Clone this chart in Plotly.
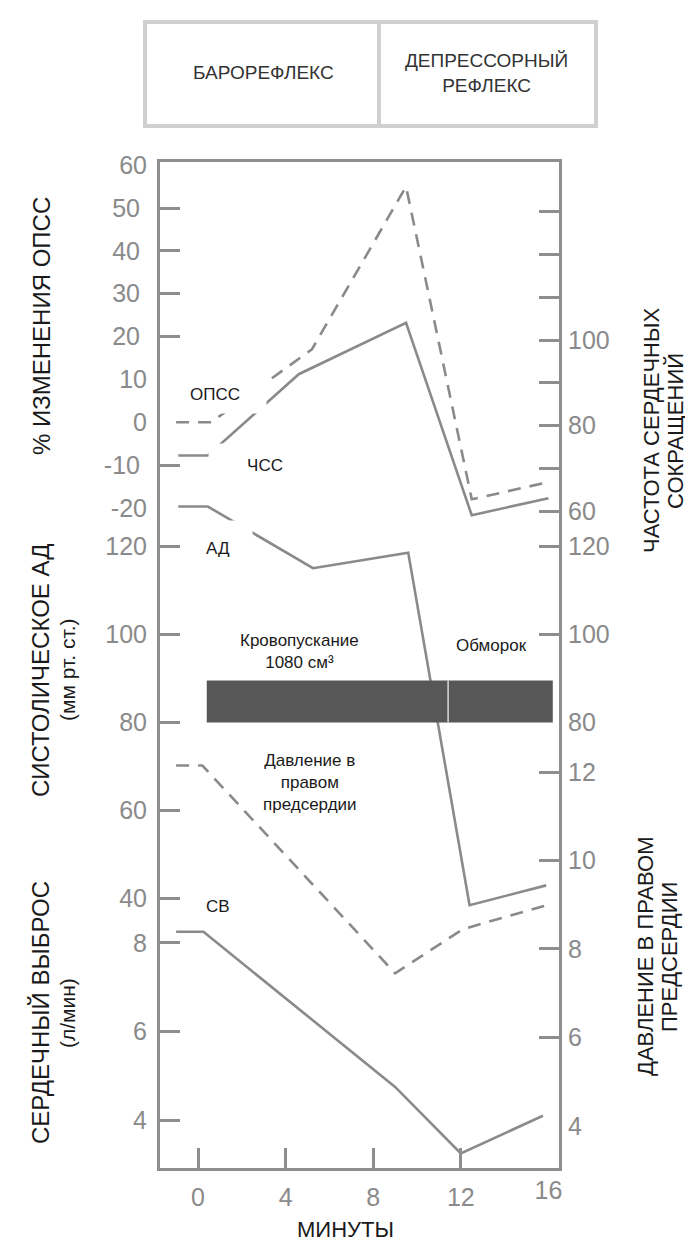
import plotly.graph_objects as go

# ---------------- data ----------------
minutes_opss = [-1.0, 0.6, 5.2, 9.5, 12.5, 16.0]
opss_change = [0, 0, 17, 55, -18, -14]            # % change of total peripheral resistance

minutes_hr = [-0.9, 0.45, 4.6, 9.5, 12.5, 16.0]
heart_rate = [73, 73, 92, 104, 59, 63]            # beats/min

minutes_bp = [-0.9, 0.45, 5.25, 9.6, 12.4, 15.9]
systolic_bp = [129, 129, 115, 118.5, 38.5, 43]    # mm Hg

minutes_rap = [-1.0, 0.2, 9.0, 12.1, 16.0]
right_atrial = [12.15, 12.15, 7.45, 8.45, 9.0]    # right atrial pressure

minutes_co = [-1.0, 0.25, 9.0, 12.0, 15.75]
cardiac_output = [8.25, 8.25, 4.75, 3.25, 4.1]    # l/min

phase_names = ["Кровопускание<br>1080 см³", "Обморок"]
phase_start = [0.4, 11.42]
phase_end = [11.42, 16.2]
phase_bp_band = [80, 89.5]

x_ticks = [0, 4, 8, 12]
x_tick_labels_only = [16]
opss_ticks = [50, 40, 30, 20, -10]
opss_labels_only = [60, 10, 0, -20]
bp_ticks_left = [120, 100, 80, 60, 40]
co_ticks = [8, 6, 4]
hr_ticks = [130, 120, 110, 100, 90, 80, 70, 60]
hr_tick_text = ["", "", "", "100", "", "80", "", "60"]
bp_ticks_right = [120, 100]
bp_labels_only_right = [80]
rap_ticks = [12, 10, 8, 6]
rap_labels_only = [4]

# ---------------- styling ----------------
W, H = 693, 1240
L, R, T, B = 152, 551, 154, 1160
FONT = "Liberation Sans, Arial, sans-serif"
AX = "#8e8e8e"
TL = "#8a8a8a"
LN = "#8a8a8a"
TXT = "#1a1a1a"

def px(x):
    return (x - L) / (R - L)

def py(y):
    return (B - y) / (B - T)

tickfont = dict(family=FONT, size=25, color=TL)
common = dict(showgrid=False, zeroline=False, ticks="inside", ticklen=20,
              tickwidth=2.5, tickcolor=AX, tickfont=tickfont)

fig = go.Figure()

def line(x, y, yaxis, dash="solid"):
    fig.add_trace(go.Scatter(x=x, y=y, xaxis="x", yaxis=yaxis, mode="lines",
                             line=dict(color=LN, width=2.6, dash=dash),
                             showlegend=False, hoverinfo="skip"))

line(minutes_opss, opss_change, "y", dash="13px,9px")
line(minutes_hr, heart_rate, "y5")
line(minutes_bp, systolic_bp, "y3")
line(minutes_rap, right_atrial, "y8", dash="13px,9px")
line(minutes_co, cardiac_output, "y4")

for xa, ya in [("x", "y2"), ("x", "y6"), ("x", "y7"), ("x", "y9"), ("x2", "y")]:
    fig.add_trace(go.Scatter(x=[None], y=[None], xaxis=xa, yaxis=ya, mode="lines",
                             showlegend=False, hoverinfo="skip"))

x_range = [-1.735, 16.484]
opss_range = [-174.13, 60.75]
hr_range = [-93.68, 141.64]
bp_range = [-21.16, 207.22]
co_range = [2.921, 25.618]
rap_range = [3.045, 25.805]

fig.update_layout(
    width=W, height=H,
    margin=dict(l=L, r=W - R, t=T, b=H - B),
    paper_bgcolor="white", plot_bgcolor="white",
    font=dict(family=FONT),
    xaxis=dict(range=x_range, tickvals=x_ticks, ticktext=[str(v) for v in x_ticks],
               showline=True, mirror=True, linecolor=AX, linewidth=3,
               ticklabelstandoff=5, **common),
    xaxis2=dict(range=x_range, overlaying="x", anchor="y", side="bottom",
                tickvals=x_tick_labels_only, ticktext=[str(v) for v in x_tick_labels_only],
                showgrid=False, zeroline=False, ticks="", showline=False,
                tickfont=tickfont, ticklabelstandoff=5),
    yaxis=dict(range=opss_range, tickvals=opss_ticks, ticktext=[str(v) for v in opss_ticks],
               showline=True, mirror=True, linecolor=AX, linewidth=3,
               ticklabelstandoff=12, **common),
    yaxis2=dict(range=opss_range, overlaying="y", side="left", anchor="x",
                tickvals=opss_labels_only, ticktext=[str(v) for v in opss_labels_only],
                showgrid=False, zeroline=False, ticks="", showline=False,
                tickfont=tickfont, ticklabelstandoff=12),
    yaxis3=dict(range=bp_range, overlaying="y", side="left", anchor="x",
                tickvals=bp_ticks_left, ticktext=[str(v) for v in bp_ticks_left],
                showline=False, ticklabelstandoff=12, **common),
    yaxis4=dict(range=co_range, overlaying="y", side="left", anchor="x",
                tickvals=co_ticks, ticktext=[str(v) for v in co_ticks],
                showline=False, ticklabelstandoff=12, **common),
    yaxis5=dict(range=hr_range, overlaying="y", side="right", anchor="x",
                tickvals=hr_ticks, ticktext=hr_tick_text,
                showline=False, ticklabelstandoff=8, **common),
    yaxis6=dict(range=bp_range, overlaying="y", side="right", anchor="x",
                tickvals=bp_ticks_right, ticktext=[str(v) for v in bp_ticks_right],
                showline=False, ticklabelstandoff=8, **common),
    yaxis7=dict(range=bp_range, overlaying="y", side="right", anchor="x",
                tickvals=bp_labels_only_right, ticktext=[str(v) for v in bp_labels_only_right],
                showgrid=False, zeroline=False, ticks="", showline=False,
                tickfont=tickfont, ticklabelstandoff=8),
    yaxis8=dict(range=rap_range, overlaying="y", side="right", anchor="x",
                tickvals=rap_ticks, ticktext=[str(v) for v in rap_ticks],
                showline=False, ticklabelstandoff=8, **common),
    yaxis9=dict(range=rap_range, overlaying="y", side="right", anchor="x",
                tickvals=rap_labels_only, ticktext=[str(v) for v in rap_labels_only],
                showgrid=False, zeroline=False, ticks="", showline=False,
                tickfont=tickfont, ticklabelstandoff=8),
)

# ---- blood-letting / syncope bar (on the systolic pressure scale) ----
for s, e in zip(phase_start, phase_end):
    fig.add_shape(type="rect", xref="x", yref="y3", x0=s, x1=e,
                  y0=phase_bp_band[0], y1=phase_bp_band[1],
                  fillcolor="#575757", line=dict(width=0), layer="above")
fig.add_shape(type="line", xref="x", yref="y3", x0=phase_start[1], x1=phase_start[1],
              y0=phase_bp_band[0], y1=phase_bp_band[1],
              line=dict(color="#d8d8d8", width=1.5), layer="above")

# ---- top header box ----
box = dict(color="#d0d0d0", width=4)
fig.add_shape(type="rect", xref="paper", yref="paper", x0=px(137), x1=px(588),
              y0=py(118), y1=py(14), line=box, fillcolor="rgba(0,0,0,0)")
fig.add_shape(type="line", xref="paper", yref="paper", x0=px(371), x1=px(371),
              y0=py(118), y1=py(14), line=box)

def ann(text, x, y, size=17, color=TXT, angle=0, bg=None, w=None, h=None, **kw):
    d = dict(text=text, xref="paper", yref="paper", x=px(x), y=py(y),
             xanchor="center", yanchor="middle", showarrow=False,
             font=dict(family=FONT, size=size, color=color), textangle=angle)
    if bg:
        d.update(bgcolor=bg)
    if w:
        d.update(width=w)
    if h:
        d.update(height=h)
    d.update(kw)
    fig.add_annotation(**d)

ann("БАРОРЕФЛЕКС", 255, 64, size=19, color="#333333")
ann("ДЕПРЕССОРНЫЙ<br>РЕФЛЕКС", 478, 65, size=19, color="#333333")

# series labels with white masks
ann("ОПСС", 207, 386, bg="white", w=100, h=36)
ann("ЧСС", 257, 457, bg="white", w=110, h=40)
ann("АД", 210, 540, bg="white", w=66, h=52)
ann("СВ", 210, 898, bg="white")
ann(phase_names[0], 291, 643)
ann(phase_names[1], 483, 637)
ann("Давление в<br>правом<br>предсердии", 302, 774)

# axis titles
ann("% ИЗМЕНЕНИЯ ОПСС", 33, 318, size=24, angle=-90)
ann("СИСТОЛИЧЕСКОЕ АД", 32, 662, size=24, angle=-90)
ann("(мм рт. ст.)", 59, 662, size=21, angle=-90)
ann("СЕРДЕЧНЫЙ ВЫБРОС", 32, 1005, size=24, angle=-90)
ann("(л/мин)", 59, 1005, size=21, angle=-90)
ann("ЧАСТОТА СЕРДЕЧНЫХ", 643, 423, size=22, angle=-90)
ann("СОКРАЩЕНИЙ", 667, 423, size=22, angle=-90)
ann("ДАВЛЕНИЕ В ПРАВОМ", 638, 949, size=22, angle=-90)
ann("ПРЕДСЕРДИИ", 662, 949, size=22, angle=-90)
ann("МИНУТЫ", 337, 1221, size=22)

fig.write_html("out.html")
